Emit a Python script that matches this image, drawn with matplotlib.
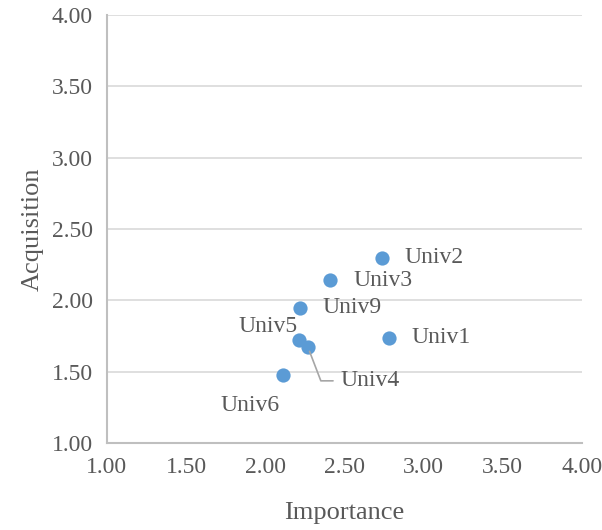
import matplotlib
matplotlib.use('Agg')
import matplotlib.pyplot as plt

plt.rcParams['font.family'] = ['Liberation Serif', 'DejaVu Serif']

names = ['Univ1', 'Univ2', 'Univ3', 'Univ4', 'Univ5', 'Univ6', 'Univ9']
importance = [2.78, 2.74, 2.41, 2.27, 2.21, 2.11, 2.22]
acquisition = [1.74, 2.30, 2.14, 1.67, 1.72, 1.48, 1.95]
ticks = [1.0, 1.5, 2.0, 2.5, 3.0, 3.5, 4.0]

# label offsets in points (dx, dy, ha)
offsets = {
    'Univ1': (16, 0, 'left'),
    'Univ2': (16, 0, 'left'),
    'Univ3': (17, 0, 'left'),
    'Univ4': (23, -24, 'left'),
    'Univ5': (-1, 10, 'right'),
    'Univ6': (-2, -22, 'right'),
    'Univ9': (16, 0, 'left'),
}

texto = '#595959'

fig = plt.figure(figsize=(6.02, 5.30), dpi=100)
ax = fig.add_axes([0.1777, 0.164, 0.789, 0.8075])

ax.scatter(importance, acquisition, s=105, color='#5B9BD5', zorder=3, linewidths=0)

for n, x, y in zip(names, importance, acquisition):
    dx, dy, ha = offsets[n]
    if n == 'Univ4':
        ax.annotate(n, (x, y), xytext=(dx, dy), textcoords='offset points',
                    ha=ha, va='center', fontsize=17, color=texto,
                    arrowprops=dict(arrowstyle='-', color='#A6A6A6', lw=1.2,
                                    shrinkA=3, shrinkB=3,
                                    connectionstyle='angle,angleA=0,angleB=-69,rad=0'))
    else:
        ax.annotate(n, (x, y), xytext=(dx, dy), textcoords='offset points',
                    ha=ha, va='center', fontsize=17, color=texto)

ax.set_xlim(1, 4)
ax.set_ylim(1, 4)
ax.set_xticks(ticks)
ax.set_yticks(ticks)
ax.set_xticklabels([f'{t:.2f}' for t in ticks])
ax.set_yticklabels([f'{t:.2f}' for t in ticks])
ax.tick_params(length=0, labelsize=17, labelcolor=texto, pad=10)

ax.grid(axis='y', color='#D9D9D9', lw=1.2)
ax.set_axisbelow(True)
for s in ['top', 'right']:
    ax.spines[s].set_visible(False)
for s in ['left', 'bottom']:
    ax.spines[s].set_color('#BFBFBF')
    ax.spines[s].set_linewidth(1.5)

ax.set_xlabel('Importance', fontsize=19, color=texto, labelpad=17)
ax.set_ylabel('Acquisition', fontsize=19, color=texto, labelpad=6)

fig.savefig('out.png', dpi=100)
